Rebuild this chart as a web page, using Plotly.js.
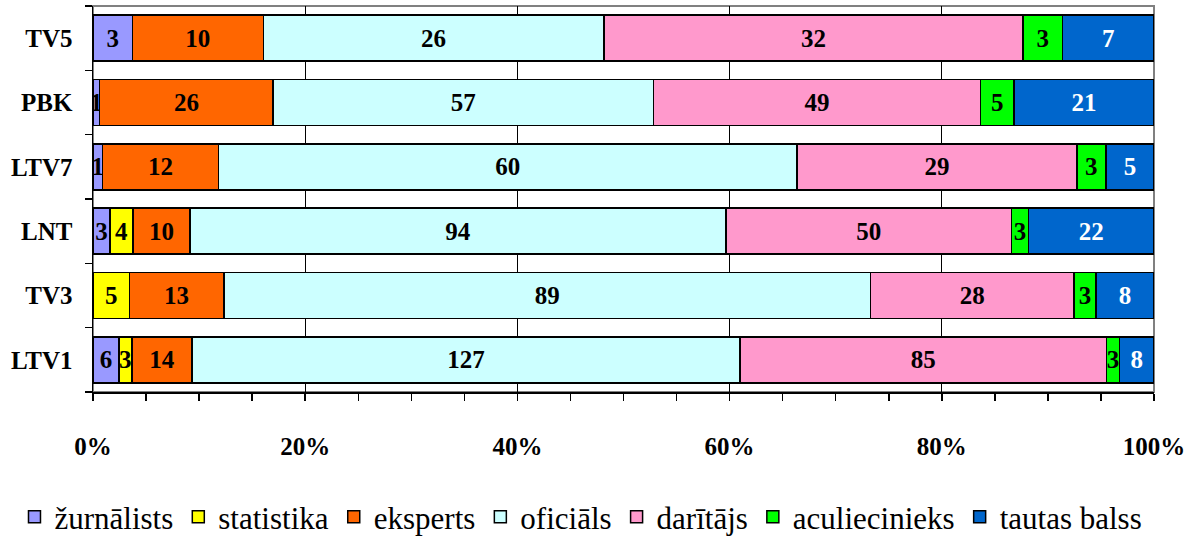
<!DOCTYPE html>
<html>
<head>
<meta charset="utf-8">
<script src="https://cdn.plot.ly/plotly-3.0.1.min.js"></script>
<style>html,body{margin:0;padding:0;background:#fff;}#chart{width:1195px;height:539px;}</style>
</head>
<body>
<div id="chart"></div>
<script>
const categories = ['LTV1', 'TV3', 'LNT', 'LTV7', 'PBK', 'TV5'];
const seriesNames = ['žurnālists', 'statistika', 'eksperts', 'oficiāls', 'darītājs', 'aculiecinieks', 'tautas balss'];
const zurnalists    = [6, 0, 3, 1, 1, 3];
const statistika    = [3, 5, 4, 0, 0, 0];
const eksperts      = [14, 13, 10, 12, 26, 10];
const oficials      = [127, 89, 94, 60, 57, 26];
const daritajs      = [85, 28, 50, 29, 49, 32];
const aculiecinieks = [3, 3, 3, 3, 5, 3];
const tautasBalss   = [8, 8, 22, 5, 21, 7];
const xTickValues = [0, 20, 40, 60, 80, 100];

const seriesValues = [zurnalists, statistika, eksperts, oficials, daritajs, aculiecinieks, tautasBalss];
const colors = ['#9999FF', '#FFFF00', '#FF6600', '#CCFFFF', '#FF99CC', '#00FF00', '#0066CC'];
const textColors = ['#000', '#000', '#000', '#000', '#000', '#000', '#FFF'];
const FONT = '"Liberation Serif"';

const traces = seriesValues.map((vals, i) => ({
  type: 'bar',
  orientation: 'h',
  name: seriesNames[i],
  y: categories,
  x: vals,
  text: vals.map(v => v === 0 ? '' : String(v)),
  textposition: 'inside',
  insidetextanchor: 'middle',
  constraintext: 'none',
  textangle: 0,
  textfont: {family: FONT, size: 25, color: textColors[i], weight: 'bold'},
  marker: {color: colors[i], line: {color: '#000', width: 1.5}},
  hoverinfo: 'none'
}));

const layout = {
  width: 1195,
  height: 539,
  margin: {l: 93, r: 41, t: 6, b: 147, pad: 0, autoexpand: false},
  paper_bgcolor: '#fff',
  plot_bgcolor: '#fff',
  barmode: 'stack',
  barnorm: 'percent',
  bargap: 0.285,
  showlegend: true,
  font: {family: FONT, color: '#000'},
  xaxis: {
    range: [0, 100],
    tickvals: xTickValues,
    ticktext: xTickValues.map(v => v + '%'),
    ticks: 'outside',
    ticklen: 7,
    tickwidth: 1.5,
    tickcolor: '#000',
    showline: true,
    linecolor: '#000',
    linewidth: 1.5,
    showgrid: true,
    gridcolor: '#000',
    gridwidth: 1,
    zeroline: false,
    ticklabelstandoff: 24,
    tickfont: {family: FONT, size: 25, weight: 'bold', color: '#000'},
    minor: {dtick: 5, ticks: 'outside', ticklen: 7, tickwidth: 1.5, tickcolor: '#000', showgrid: false},
    fixedrange: true
  },
  yaxis: {
    type: 'category',
    tickson: 'boundaries',
    ticks: 'outside',
    ticklen: 7,
    tickwidth: 1.5,
    tickcolor: '#000',
    showline: true,
    linecolor: '#000',
    linewidth: 1.5,
    showgrid: false,
    zeroline: false,
    ticklabelstandoff: 14,
    tickfont: {family: FONT, size: 25, weight: 'bold', color: '#000'},
    fixedrange: true
  },
  legend: {
    orientation: 'h',
    xref: 'paper',
    yref: 'paper',
    x: -0.074,
    xanchor: 'left',
    y: -0.324,
    yanchor: 'middle',
    font: {family: FONT, size: 31, color: '#000'},
    traceorder: 'normal',
    itemclick: false,
    itemdoubleclick: false
  },
  shapes: [{
    type: 'rect', xref: 'paper', yref: 'paper', x0: 0, x1: 1, y0: 0, y1: 1,
    line: {color: '#808080', width: 2}, layer: 'below'
  }]
};

Plotly.newPlot('chart', traces, layout, {displayModeBar: false, staticPlot: true});
</script>
</body>
</html>
